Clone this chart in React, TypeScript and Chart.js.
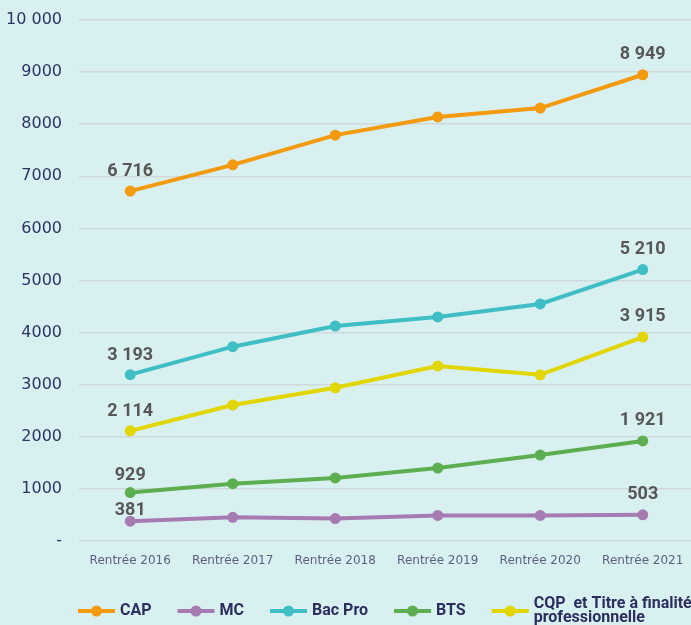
import React, { useEffect, useRef } from 'react';
import { Chart, registerables } from 'chart.js';

Chart.register(...registerables);

const categories = ['Rentrée 2016', 'Rentrée 2017', 'Rentrée 2018', 'Rentrée 2019', 'Rentrée 2020', 'Rentrée 2021'];
const capValues = [6716, 7220, 7790, 8140, 8310, 8949];
const mcValues = [381, 455, 430, 490, 490, 503];
const bacProValues = [3193, 3730, 4125, 4300, 4550, 5210];
const btsValues = [929, 1100, 1210, 1400, 1650, 1921];
const cqpValues = [2114, 2610, 2940, 3360, 3190, 3915];
const seriesNames = ['CAP', 'MC', 'Bac Pro', 'BTS', 'CQP  et Titre à finalité professionnelle'];
const legendLines = [['CAP'], ['MC'], ['Bac Pro'], ['BTS'], ['CQP  et Titre à finalité', 'professionnelle']];
const seriesColors = ['#F39A0E', '#A57BB2', '#3FBEC4', '#5DAE50', '#E1D600'];
const yTickLabels = ['-', '1000', '2000', '3000', '4000', '5000', '6000', '7000', '8000', '9000', '10 000'];
// vertical gap between point and label baseline (first, last)
const labelGaps = [[15, 16], [6, 16], [15, 16], [13, 16], [15, 16]];

const formatNumber = (n: number) => String(n).replace(/\B(?=(\d{3})+(?!\d))/g, ' ');

const endLabelsPlugin = {
  id: 'endLabels',
  afterDatasetsDraw(chart: any) {
    const ctx = chart.ctx;
    ctx.save();
    ctx.font = 'bold 18px Roboto';
    ctx.fillStyle = '#575757';
    ctx.textAlign = 'center';
    ctx.textBaseline = 'alphabetic';
    chart.data.datasets.forEach((ds: any, i: number) => {
      const meta = chart.getDatasetMeta(i);
      const last = ds.data.length - 1;
      [0, last].forEach((idx, k) => {
        const pt = meta.data[idx];
        ctx.fillText(formatNumber(ds.data[idx]), pt.x, pt.y - labelGaps[i][k]);
      });
    });
    ctx.restore();
  },
};

const legendPlugin = {
  id: 'customLegend',
  afterDraw(chart: any) {
    const ctx = chart.ctx;
    ctx.save();
    ctx.font = 'bold 16px Roboto';
    ctx.textBaseline = 'middle';
    ctx.textAlign = 'left';
    const y = chart.height - 14;
    let x = chart.chartArea.left - 1;
    legendLines.forEach((lines, i) => {
      const color = seriesColors[i];
      ctx.strokeStyle = color;
      ctx.lineWidth = 4;
      ctx.beginPath();
      ctx.moveTo(x, y);
      ctx.lineTo(x + 37, y);
      ctx.stroke();
      ctx.fillStyle = color;
      ctx.beginPath();
      ctx.arc(x + 18.5, y, 5.5, 0, Math.PI * 2);
      ctx.fill();
      ctx.fillStyle = '#2B2E5E';
      const lh = 14;
      const startY = y - ((lines.length - 1) * lh) / 2;
      let maxW = 0;
      lines.forEach((t, k) => {
        ctx.fillText(t, x + 42, startY + k * lh);
        maxW = Math.max(maxW, ctx.measureText(t).width);
      });
      x += 42 + maxW + 26;
    });
    ctx.restore();
  },
};

export default function App() {
  const ref = useRef<HTMLCanvasElement | null>(null);
  useEffect(() => {
    document.body.style.margin = '0';
    document.body.style.background = '#D9F0F0';
    const canvas = ref.current!;
    const seriesValues = [capValues, mcValues, bacProValues, btsValues, cqpValues];
    const chart = new Chart(canvas, {
      type: 'line',
      data: {
        labels: categories,
        datasets: seriesValues.map((vals, i) => ({
          label: seriesNames[i],
          data: vals,
          borderColor: seriesColors[i],
          backgroundColor: seriesColors[i],
          pointBackgroundColor: seriesColors[i],
          pointBorderWidth: 0,
          pointRadius: 5.5,
          borderWidth: 4,
          tension: 0,
          fill: false,
        })),
      },
      options: {
        responsive: false,
        animation: false,
        devicePixelRatio: 1,
        layout: { padding: { top: 20, right: 6, left: 0, bottom: 0 } },
        plugins: { legend: { display: false }, tooltip: { enabled: false } },
        scales: {
          x: {
            offset: true,
            grid: { display: false, drawTicks: false },
            border: { display: false },
            ticks: {
              font: { family: 'DejaVu Sans', size: 12 },
              color: '#5B5F80',
              padding: 13,
              maxRotation: 0,
              autoSkip: false,
            },
            afterFit: (s: any) => { s.height = 84; },
          },
          y: {
            min: 0,
            max: 10000,
            ticks: {
              stepSize: 1000,
              callback: (v: any) => yTickLabels[Math.round(Number(v) / 1000)],
              font: { family: 'DejaVu Sans', size: 16 },
              color: '#2E3366',
              padding: 17,
            },
            grid: { color: '#CFD9D9', lineWidth: 1.5, drawTicks: false },
            border: { display: false },
            afterFit: (s: any) => { s.width = 79; s.paddingTop = 0; s.paddingBottom = 0; },
          },
        },
      },
      plugins: [endLabelsPlugin, legendPlugin],
    });
    return () => chart.destroy();
  }, []);
  return (
    <div style={{ position: 'fixed', left: 0, top: 0, width: 691, height: 625, overflow: 'hidden', background: '#D9F0F0' }}>
      <canvas ref={ref} width={700} height={625} style={{ display: 'block' }} />
    </div>
  );
}
